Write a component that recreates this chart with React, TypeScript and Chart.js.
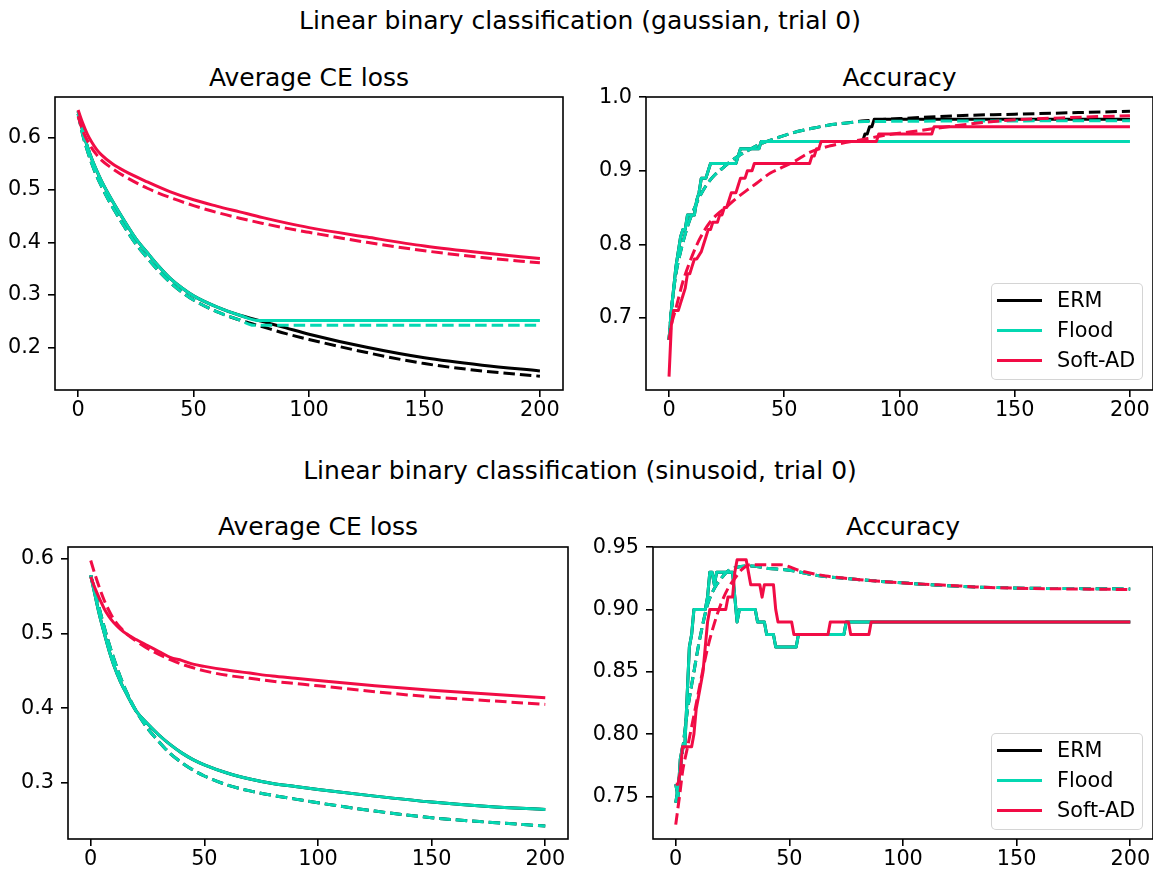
import React, { useEffect, useRef } from 'react';
import { Chart, registerables } from 'chart.js';

Chart.register(...registerables);

type Pt = [number, number];

// ---------- colours / labels ----------
const C_ERM = '#000000';
const C_FLOOD = '#04d8b2';
const C_SOFT = '#f10c45';
const METHOD_NAMES = ['ERM', 'Flood', 'Soft-AD'];
const SUPTITLES = [
  'Linear binary classification (gaussian, trial 0)',
  'Linear binary classification (sinusoid, trial 0)',
];
const PANEL_TITLES = ['Average CE loss', 'Accuracy'];

// ---------- ticks ----------
const X_TICKS = [0, 50, 100, 150, 200];
const X_TICK_LABELS = ['0', '50', '100', '150', '200'];
const G_LOSS_Y_TICKS = [0.2, 0.3, 0.4, 0.5, 0.6];
const G_LOSS_Y_LABELS = ['0.2', '0.3', '0.4', '0.5', '0.6'];
const G_ACC_Y_TICKS = [0.7, 0.8, 0.9, 1.0];
const G_ACC_Y_LABELS = ['0.7', '0.8', '0.9', '1.0'];
const S_LOSS_Y_TICKS = [0.3, 0.4, 0.5, 0.6];
const S_LOSS_Y_LABELS = ['0.3', '0.4', '0.5', '0.6'];
const S_ACC_Y_TICKS = [0.75, 0.8, 0.85, 0.9, 0.95];
const S_ACC_Y_LABELS = ['0.75', '0.80', '0.85', '0.90', '0.95'];

// ---------- gaussian: loss ----------
const G_LOSS_ERM_TRAIN: Pt[] = [[0,0.650],[2,0.612],[4,0.583],[6,0.558],[8,0.537],[10,0.518],[13,0.493],[16,0.470],[20,0.441],[25,0.407],[30,0.380],[35,0.354],[40,0.331],[45,0.313],[50,0.298],[60,0.277],[70,0.261],[80,0.249],[90,0.237],[100,0.225],[125,0.200],[150,0.180],[175,0.166],[200,0.155]];
const G_LOSS_ERM_TEST: Pt[] = [[0,0.645],[2,0.605],[4,0.575],[6,0.549],[8,0.527],[10,0.508],[13,0.482],[16,0.459],[20,0.430],[25,0.397],[30,0.370],[35,0.345],[40,0.323],[45,0.305],[50,0.290],[60,0.268],[70,0.252],[80,0.239],[90,0.226],[100,0.215],[125,0.190],[150,0.169],[175,0.155],[200,0.145]];
const G_LOSS_FLOOD_TRAIN: Pt[] = [[0,0.650],[2,0.612],[4,0.583],[6,0.558],[8,0.537],[10,0.518],[13,0.493],[16,0.470],[20,0.441],[25,0.407],[30,0.380],[35,0.354],[40,0.331],[45,0.313],[50,0.298],[60,0.277],[70,0.261],[78,0.251],[200,0.251]];
const G_LOSS_FLOOD_TEST: Pt[] = [[0,0.645],[2,0.605],[4,0.575],[6,0.549],[8,0.527],[10,0.508],[13,0.482],[16,0.459],[20,0.430],[25,0.397],[30,0.370],[35,0.345],[40,0.323],[45,0.305],[50,0.290],[60,0.268],[70,0.252],[76,0.242],[200,0.242]];
const G_LOSS_SOFT_TRAIN: Pt[] = [[0,0.652],[2,0.627],[4,0.606],[6,0.590],[8,0.577],[10,0.567],[15,0.549],[20,0.536],[30,0.515],[40,0.496],[50,0.481],[60,0.469],[70,0.458],[80,0.447],[90,0.437],[100,0.428],[125,0.410],[150,0.393],[175,0.380],[200,0.369]];
const G_LOSS_SOFT_TEST: Pt[] = [[0,0.640],[2,0.613],[4,0.594],[6,0.579],[8,0.567],[10,0.557],[15,0.540],[20,0.526],[30,0.503],[40,0.485],[50,0.470],[60,0.457],[70,0.446],[80,0.436],[90,0.427],[100,0.419],[125,0.400],[150,0.384],[175,0.371],[200,0.361]];

// ---------- gaussian: accuracy ----------
const G_ACC_ERM_TRAIN: Pt[] = [[0,0.67],[1,0.71],[2,0.74],[3,0.77],[4,0.79],[5,0.81],[6,0.82],[7,0.82],[8,0.84],[11,0.84],[12,0.86],[13,0.87],[14,0.89],[16,0.89],[17,0.90],[18,0.91],[29,0.91],[30,0.92],[31,0.93],[39,0.93],[40,0.94],[84,0.94],[85,0.95],[86,0.95],[87,0.96],[88,0.96],[89,0.97],[200,0.97]];
const G_ACC_ERM_TEST: Pt[] = [[0,0.67],[1,0.71],[3,0.76],[5,0.79],[8,0.824],[11,0.849],[14,0.869],[17,0.884],[20,0.895],[23,0.903],[26,0.911],[30,0.920],[35,0.929],[40,0.937],[47,0.945],[54,0.952],[61,0.957],[69,0.962],[77,0.965],[85,0.968],[100,0.971],[125,0.975],[150,0.977],[175,0.979],[200,0.981]];
const G_ACC_FLOOD_TRAIN: Pt[] = [[0,0.67],[1,0.71],[2,0.74],[3,0.77],[4,0.79],[5,0.81],[6,0.82],[7,0.82],[8,0.84],[11,0.84],[12,0.86],[13,0.87],[14,0.89],[16,0.89],[17,0.90],[18,0.91],[29,0.91],[30,0.92],[31,0.93],[39,0.93],[40,0.94],[200,0.94]];
const G_ACC_FLOOD_TEST: Pt[] = [[0,0.67],[1,0.71],[3,0.76],[5,0.79],[8,0.824],[11,0.849],[14,0.869],[17,0.884],[20,0.895],[23,0.903],[26,0.911],[30,0.920],[35,0.929],[40,0.937],[47,0.945],[54,0.952],[61,0.957],[69,0.962],[77,0.965],[85,0.967],[200,0.968]];
const G_ACC_SOFT_TRAIN: Pt[] = [[0,0.62],[1,0.69],[2,0.71],[4,0.71],[5,0.72],[6,0.73],[7,0.74],[8,0.76],[9,0.76],[10,0.77],[11,0.78],[12,0.78],[14,0.79],[15,0.80],[16,0.81],[17,0.82],[18,0.82],[19,0.83],[21,0.83],[22,0.84],[23,0.84],[24,0.85],[25,0.85],[26,0.86],[27,0.87],[29,0.87],[30,0.88],[31,0.89],[33,0.89],[34,0.90],[36,0.90],[37,0.91],[61,0.91],[62,0.92],[63,0.92],[64,0.93],[65,0.93],[66,0.94],[90,0.94],[91,0.95],[114,0.95],[115,0.96],[200,0.96]];
const G_ACC_SOFT_TEST: Pt[] = [[0,0.67],[1,0.69],[3,0.713],[6,0.749],[9,0.776],[12,0.799],[15,0.817],[18,0.831],[21,0.841],[25,0.851],[29,0.862],[34,0.874],[38,0.883],[44,0.897],[48,0.903],[54,0.912],[61,0.925],[70,0.934],[83,0.942],[95,0.949],[105,0.953],[126,0.962],[144,0.968],[170,0.972],[200,0.975]];

// ---------- sinusoid: loss ----------
const S_LOSS_ERM_TRAIN: Pt[] = [[0,0.578],[2,0.550],[4,0.523],[6,0.500],[8,0.478],[10,0.459],[13,0.436],[16,0.418],[20,0.396],[25,0.379],[30,0.364],[35,0.351],[40,0.340],[45,0.331],[50,0.324],[60,0.313],[70,0.305],[80,0.299],[90,0.295],[100,0.291],[125,0.282],[150,0.274],[175,0.268],[200,0.264]];
const S_LOSS_ERM_TEST: Pt[] = [[0,0.578],[2,0.556],[4,0.531],[6,0.508],[8,0.487],[10,0.468],[13,0.442],[16,0.420],[20,0.396],[25,0.373],[30,0.355],[35,0.339],[40,0.327],[45,0.317],[50,0.309],[60,0.297],[70,0.289],[80,0.283],[90,0.278],[100,0.273],[125,0.262],[150,0.253],[175,0.247],[200,0.242]];
const S_LOSS_FLOOD_TRAIN: Pt[] = [[0,0.578],[2,0.550],[4,0.523],[6,0.500],[8,0.478],[10,0.459],[13,0.436],[16,0.418],[20,0.396],[25,0.379],[30,0.364],[35,0.351],[40,0.340],[45,0.331],[50,0.324],[60,0.313],[70,0.305],[80,0.299],[90,0.295],[100,0.291],[125,0.282],[150,0.274],[175,0.268],[200,0.264]];
const S_LOSS_FLOOD_TEST: Pt[] = [[0,0.578],[2,0.556],[4,0.531],[6,0.508],[8,0.487],[10,0.468],[13,0.442],[16,0.420],[20,0.396],[25,0.373],[30,0.355],[35,0.339],[40,0.327],[45,0.317],[50,0.309],[60,0.297],[70,0.289],[80,0.283],[90,0.278],[100,0.273],[125,0.262],[150,0.253],[175,0.247],[200,0.242]];
const S_LOSS_SOFT_TRAIN: Pt[] = [[0,0.576],[2,0.560],[4,0.546],[6,0.533],[8,0.523],[10,0.515],[13,0.506],[16,0.499],[20,0.492],[25,0.484],[30,0.476],[35,0.468],[40,0.464],[45,0.459],[50,0.456],[60,0.451],[70,0.447],[80,0.443],[90,0.440],[100,0.437],[125,0.430],[150,0.424],[175,0.419],[200,0.414]];
const S_LOSS_SOFT_TEST: Pt[] = [[0,0.598],[2,0.578],[4,0.560],[6,0.544],[8,0.531],[10,0.520],[13,0.508],[16,0.499],[20,0.490],[25,0.480],[30,0.472],[35,0.465],[40,0.459],[50,0.450],[60,0.444],[70,0.440],[80,0.436],[90,0.433],[100,0.430],[125,0.422],[150,0.415],[175,0.410],[200,0.405]];

// ---------- sinusoid: accuracy ----------
const S_ACC_ERM_TRAIN: Pt[] = [[0,0.76],[1,0.75],[2,0.78],[3,0.79],[4,0.79],[5,0.83],[6,0.87],[7,0.88],[8,0.90],[13,0.90],[14,0.91],[15,0.93],[16,0.93],[17,0.92],[18,0.93],[25,0.93],[26,0.91],[27,0.89],[28,0.90],[35,0.90],[36,0.89],[39,0.89],[40,0.88],[43,0.88],[44,0.87],[53,0.87],[54,0.88],[74,0.88],[75,0.89],[200,0.89]];
const S_ACC_ERM_TEST: Pt[] = [[0,0.745],[1,0.757],[3,0.787],[5,0.817],[8,0.850],[10,0.871],[12,0.889],[14,0.904],[17,0.917],[20,0.925],[23,0.931],[27,0.934],[33,0.935],[41,0.933],[48,0.932],[55,0.930],[60,0.928],[81,0.924],[103,0.921],[134,0.918],[200,0.9165]];
const S_ACC_FLOOD_TRAIN: Pt[] = [[0,0.76],[1,0.75],[2,0.78],[3,0.79],[4,0.79],[5,0.83],[6,0.87],[7,0.88],[8,0.90],[13,0.90],[14,0.91],[15,0.93],[16,0.93],[17,0.92],[18,0.93],[25,0.93],[26,0.91],[27,0.89],[28,0.90],[35,0.90],[36,0.89],[39,0.89],[40,0.88],[43,0.88],[44,0.87],[53,0.87],[54,0.88],[74,0.88],[75,0.89],[200,0.89]];
const S_ACC_FLOOD_TEST: Pt[] = [[0,0.745],[1,0.757],[3,0.787],[5,0.817],[8,0.850],[10,0.871],[12,0.889],[14,0.904],[17,0.917],[20,0.925],[23,0.931],[27,0.934],[33,0.935],[41,0.933],[48,0.932],[55,0.930],[60,0.928],[81,0.924],[103,0.921],[134,0.918],[200,0.9165]];
const S_ACC_SOFT_TRAIN: Pt[] = [[0,0.76],[1,0.76],[2,0.77],[3,0.79],[7,0.79],[8,0.80],[9,0.82],[10,0.83],[11,0.84],[12,0.85],[13,0.87],[14,0.89],[15,0.90],[22,0.90],[23,0.91],[25,0.91],[26,0.93],[27,0.94],[31,0.94],[32,0.93],[33,0.92],[37,0.92],[38,0.91],[39,0.92],[43,0.92],[44,0.90],[45,0.89],[51,0.89],[52,0.88],[67,0.88],[68,0.89],[76,0.89],[77,0.88],[85,0.88],[86,0.89],[200,0.89]];
const S_ACC_SOFT_TEST: Pt[] = [[0,0.7275],[2,0.755],[3,0.77],[5,0.788],[8,0.815],[11,0.843],[14,0.869],[17,0.889],[20,0.905],[23,0.917],[26,0.925],[29,0.932],[33,0.936],[40,0.936],[46,0.936],[55,0.931],[66,0.927],[81,0.924],[103,0.921],[125,0.919],[134,0.918],[200,0.916]];

// ---------- layout helpers ----------
const FONT = 'DejaVu Sans';
const TICK_SIZE = 20.8;
const TITLE_SIZE = 25;
const PAD_L = 80;
const PAD_T = 20;
const PAD_R = 24;
const PAD_B = 50;

type Series = { data: Pt[]; color: string; dashed: boolean; smooth: boolean; order: number };
type Box = { l: number; t: number; r: number; b: number };

function mk(ermTr: Pt[], ermTe: Pt[], flTr: Pt[], flTe: Pt[], saTr: Pt[], saTe: Pt[], smoothTrain: boolean): Series[] {
  return [
    { data: ermTr, color: C_ERM, dashed: false, smooth: smoothTrain, order: 6 },
    { data: ermTe, color: C_ERM, dashed: true, smooth: true, order: 5 },
    { data: flTr, color: C_FLOOD, dashed: false, smooth: smoothTrain, order: 4 },
    { data: flTe, color: C_FLOOD, dashed: true, smooth: true, order: 3 },
    { data: saTr, color: C_SOFT, dashed: false, smooth: smoothTrain, order: 2 },
    { data: saTe, color: C_SOFT, dashed: true, smooth: true, order: 1 },
  ];
}

const boxPlugin = {
  id: 'axbox',
  afterDatasetsDraw(chart: any) {
    const { ctx, chartArea } = chart;
    ctx.save();
    ctx.strokeStyle = '#000';
    ctx.lineWidth = 1.6;
    ctx.strokeRect(chartArea.left, chartArea.top, chartArea.right - chartArea.left, chartArea.bottom - chartArea.top);
    ctx.restore();
  },
};

function Panel(props: {
  box: Box; yMin: number; yMax: number; yTicks: number[]; yLabels: string[]; series: Series[];
}) {
  const { box, yMin, yMax, yTicks, yLabels, series } = props;
  const ref = useRef<HTMLCanvasElement | null>(null);
  const W = box.r - box.l + PAD_L + PAD_R;
  const H = box.b - box.t + PAD_T + PAD_B;
  useEffect(() => {
    if (!ref.current) return;
    const tickFont = { family: FONT, size: TICK_SIZE };
    const chart = new Chart(ref.current, {
      type: 'line',
      data: {
        datasets: series.map((s) => ({
          data: s.data.map(([x, y]) => ({ x, y })),
          borderColor: s.color,
          backgroundColor: s.color,
          borderWidth: 3,
          borderDash: s.dashed ? [11.5, 5] : [],
          borderCapStyle: 'butt',
          borderJoinStyle: 'round',
          pointRadius: 0,
          pointHoverRadius: 0,
          tension: 0,
          cubicInterpolationMode: s.smooth ? 'monotone' : 'default',
          fill: false,
          order: s.order,
        })) as any,
      },
      options: {
        responsive: false,
        animation: false,
        devicePixelRatio: 1,
        events: [],
        layout: { padding: { left: 0, top: PAD_T, right: PAD_R, bottom: 0 } },
        plugins: { legend: { display: false }, tooltip: { enabled: false }, title: { display: false } },
        scales: {
          x: {
            type: 'linear',
            min: -10,
            max: 210,
            afterBuildTicks: (s: any) => { s.ticks = X_TICKS.map((v) => ({ value: v })); },
            afterFit: (s: any) => { s.height = PAD_B; },
            ticks: {
              font: tickFont, color: '#000', padding: 1, maxRotation: 0, autoSkip: false,
              callback: (_v: any, i: number) => X_TICK_LABELS[i],
            },
            grid: { drawOnChartArea: false, drawTicks: true, tickLength: 7, tickColor: '#000', tickWidth: 1.6, color: '#000', lineWidth: 1.6 },
            border: { display: false },
          },
          y: {
            type: 'linear',
            min: yMin,
            max: yMax,
            afterBuildTicks: (s: any) => { s.ticks = yTicks.map((v) => ({ value: v })); },
            afterFit: (s: any) => { s.width = PAD_L; },
            ticks: {
              font: tickFont, color: '#000', padding: 7, autoSkip: false,
              callback: (_v: any, i: number) => yLabels[i],
            },
            grid: { drawOnChartArea: false, drawTicks: true, tickLength: 7, tickColor: '#000', tickWidth: 1.6, color: '#000', lineWidth: 1.6 },
            border: { display: false },
          },
        },
      } as any,
      plugins: [boxPlugin],
    });
    return () => chart.destroy();
  }, []);
  return (
    <canvas
      ref={ref}
      width={W}
      height={H}
      style={{ position: 'absolute', left: box.l - PAD_L, top: box.t - PAD_T, width: W, height: H }}
    />
  );
}

function Text(props: { cx: number; cy: number; size: number; text: string }) {
  return (
    <div
      style={{
        position: 'absolute', left: props.cx - 400, width: 800, top: props.cy - props.size / 2,
        textAlign: 'center', fontSize: props.size, lineHeight: `${props.size}px`, whiteSpace: 'nowrap',
        fontFamily: FONT, color: '#000',
      }}
    >
      {props.text}
    </div>
  );
}

function Legend(props: { left: number; top: number }) {
  const colors = [C_ERM, C_FLOOD, C_SOFT];
  return (
    <div
      style={{
        position: 'absolute', left: props.left, top: props.top, width: 152, height: 97, boxSizing: 'border-box',
        border: '1.6px solid rgba(204,204,204,0.85)', borderRadius: 5, background: 'rgba(255,255,255,0.85)',
      }}
    >
      {METHOD_NAMES.map((name, i) => (
        <React.Fragment key={name}>
          <div style={{ position: 'absolute', left: 5, top: 16.6 + 30 * i - 1.5, width: 45, height: 3, background: colors[i] }} />
          <div
            style={{
              position: 'absolute', left: 65, top: 16.6 + 30 * i - TICK_SIZE / 2, fontSize: TICK_SIZE,
              lineHeight: `${TICK_SIZE}px`, fontFamily: FONT, whiteSpace: 'nowrap', color: '#000',
            }}
          >
            {name}
          </div>
        </React.Fragment>
      ))}
    </div>
  );
}

export default function App() {
  const gLoss = mk(G_LOSS_ERM_TRAIN, G_LOSS_ERM_TEST, G_LOSS_FLOOD_TRAIN, G_LOSS_FLOOD_TEST, G_LOSS_SOFT_TRAIN, G_LOSS_SOFT_TEST, true);
  const gAcc = mk(G_ACC_ERM_TRAIN, G_ACC_ERM_TEST, G_ACC_FLOOD_TRAIN, G_ACC_FLOOD_TEST, G_ACC_SOFT_TRAIN, G_ACC_SOFT_TEST, false);
  const sLoss = mk(S_LOSS_ERM_TRAIN, S_LOSS_ERM_TEST, S_LOSS_FLOOD_TRAIN, S_LOSS_FLOOD_TEST, S_LOSS_SOFT_TRAIN, S_LOSS_SOFT_TEST, true);
  const sAcc = mk(S_ACC_ERM_TRAIN, S_ACC_ERM_TEST, S_ACC_FLOOD_TRAIN, S_ACC_FLOOD_TEST, S_ACC_SOFT_TRAIN, S_ACC_SOFT_TEST, false);
  return (
    <div style={{ position: 'fixed', left: 0, top: 0, width: 1153, height: 874, overflow: 'hidden', background: '#fff' }}>
      <Text cx={580} cy={20} size={TITLE_SIZE} text={SUPTITLES[0]} />
      <Text cx={309} cy={77} size={TITLE_SIZE} text={PANEL_TITLES[0]} />
      <Text cx={899.5} cy={77} size={TITLE_SIZE} text={PANEL_TITLES[1]} />
      <Text cx={580} cy={470} size={TITLE_SIZE} text={SUPTITLES[1]} />
      <Text cx={318} cy={526} size={TITLE_SIZE} text={PANEL_TITLES[0]} />
      <Text cx={903} cy={526} size={TITLE_SIZE} text={PANEL_TITLES[1]} />

      <Panel box={{ l: 55, t: 97, r: 563, b: 390 }} yMin={0.1187} yMax={0.6768} yTicks={G_LOSS_Y_TICKS} yLabels={G_LOSS_Y_LABELS} series={gLoss} />
      <Panel box={{ l: 646, t: 97, r: 1153, b: 390 }} yMin={0.6018} yMax={1.0004} yTicks={G_ACC_Y_TICKS} yLabels={G_ACC_Y_LABELS} series={gAcc} />
      <Panel box={{ l: 68, t: 547, r: 568, b: 839 }} yMin={0.2245} yMax={0.6161} yTicks={S_LOSS_Y_TICKS} yLabels={S_LOSS_Y_LABELS} series={sLoss} />
      <Panel box={{ l: 653, t: 547, r: 1153, b: 839 }} yMin={0.716} yMax={0.9502} yTicks={S_ACC_Y_TICKS} yLabels={S_ACC_Y_LABELS} series={sAcc} />

      <Legend left={991} top={283} />
      <Legend left={991} top={733} />
    </div>
  );
}
